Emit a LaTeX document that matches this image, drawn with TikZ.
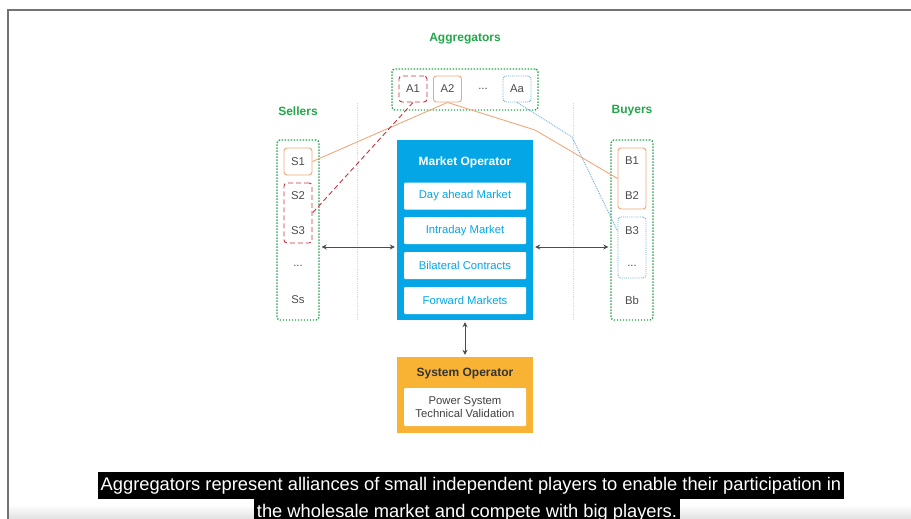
\documentclass[tikz,border=0pt]{standalone}
\usepackage{fontspec}
\setmainfont{Liberation Sans}
\usetikzlibrary{arrows.meta}

\definecolor{aggGreen}{HTML}{22A64A}
\definecolor{moBlue}{HTML}{05A6E6}
\definecolor{soOrange}{HTML}{F8B334}
\definecolor{lnOrange}{HTML}{F1A77A}
\definecolor{lnRed}{HTML}{C8323C}
\definecolor{lnBlue}{HTML}{6AAAD8}
\definecolor{txtGray}{HTML}{4A4A4A}

\begin{document}
\begin{tikzpicture}[x=1pt, y=1pt,
    grp/.style={draw=aggGreen, dash pattern=on 1.4pt off 1.6pt, line width=1.4pt, rounded corners=3pt, inner sep=0pt},
    item/.style={font=\fontsize{11.3}{13}\selectfont, text=txtGray},
    member/.style={rounded corners=3pt, line width=0.9pt, minimum width=28pt, minimum height=27pt, inner sep=0pt},
    mkt/.style={fill=white, text=moBlue, font=\fontsize{11.3}{13}\selectfont, minimum width=122pt, minimum height=27pt, rounded corners=1pt, inner sep=0pt},
    head/.style={font=\fontsize{12}{14}\selectfont\bfseries},
    link/.style={line width=0.9pt},
    reddash/.style={dash pattern=on 5pt off 3pt},
    biarrow/.style={{Stealth[length=5pt,width=5pt]}-{Stealth[length=5pt,width=5pt]}, line width=0.9pt, draw=black!70, shorten <=2pt, shorten >=2pt},
    sub/.style={fill=black, text=white, font=\fontsize{18.3}{20}\selectfont, inner xsep=3pt, inner ysep=0pt, minimum height=27pt}]
    \useasboundingbox (0,0) rectangle (911,-519);
    \clip (0,0) rectangle (911,-519);

    % Frame
    \shade[top color=white, bottom color=black!12] (9,-505) rectangle (911,-519);
    \draw[black!55, line width=1.5pt] (8,-519) -- (8,-10) -- (911,-10);

    % Guides
    \draw[black!15, densely dotted, line width=0.8pt] (357,-103) -- (357,-320);
    \draw[black!15, densely dotted, line width=0.8pt] (573,-103) -- (573,-320);

    % Titles
    \node[head, text=aggGreen] (aggtitle) at (465,-39) {Aggregators};
    \node[head, text=aggGreen] (selltitle) at (298,-111) {Sellers};
    \node[head, text=aggGreen] (buytitle) at (632,-111) {Buyers};

    % Aggregators
    \node[grp, minimum width=146pt, minimum height=41pt] (aggs) at (465,-89.5) {};
    \node[member, item, draw=lnRed, reddash, minimum height=26pt] (A1) at (413,-89) {A1};
    \node[member, item, draw=lnOrange, minimum height=26pt] (A2) at (447.5,-89) {A2};
    \node[item] (adots) at (483,-89) {...};
    \node[member, item, draw=lnBlue, densely dotted, minimum height=26pt] (Aa) at (517,-89) {Aa};

    % Sellers
    \node[grp, minimum width=42pt, minimum height=180pt] (sellers) at (298,-230) {};
    \node[member, item, draw=lnOrange] (S1) at (298,-161.5) {S1};
    \node[member, draw=lnRed, reddash, minimum height=60pt] (s23) at (298,-213) {};
    \node[item] (S2) at (298,-196) {S2};
    \node[item] (S3) at (298,-231) {S3};
    \node[item] (sdots) at (298,-266) {...};
    \node[item] (Ss) at (298,-300) {Ss};

    % Buyers
    \node[grp, minimum width=42pt, minimum height=180pt] (buyers) at (632,-230) {};
    \node[member, draw=lnOrange, minimum height=61pt] (b12) at (632,-178.5) {};
    \node[member, draw=lnBlue, densely dotted, minimum height=61pt] (b3x) at (632,-247.5) {};
    \node[item] (B1) at (632,-161) {B1};
    \node[item] (B2) at (632,-196) {B2};
    \node[item] (B3) at (632,-231) {B3};
    \node[item] (bdots) at (632,-266) {...};
    \node[item] (Bb) at (632,-300) {Bb};

    % Market operator
    \node[fill=moBlue, minimum width=136pt, minimum height=180pt, inner sep=0pt] (mo) at (465,-230) {};
    \node[head, text=white] (motitle) at (465,-162) {Market Operator};
    \node[mkt] (dam) at (465,-196) {Day ahead Market};
    \node[mkt] (idm) at (465,-230.5) {Intraday Market};
    \node[mkt] (bil) at (465,-265.5) {Bilateral Contracts};
    \node[mkt] (fwd) at (465,-300.5) {Forward Markets};

    % System operator
    \node[fill=soOrange, minimum width=136pt, minimum height=76pt, inner sep=0pt] (so) at (465,-395) {};
    \node[head, text=black!80] (sotitle) at (465,-374) {System Operator};
    \node[fill=white, rounded corners=1pt, minimum width=122pt, minimum height=38pt, inner sep=0pt,
          align=center, item, text=black!75] (psv) at (465,-407) {Power System\\Technical Validation};

    % Arrows
    \coordinate (midrow) at (465,-247);
    \draw[biarrow] (sellers.east |- midrow) -- (mo.west |- midrow);
    \draw[biarrow] (mo.east |- midrow) -- (buyers.west |- midrow);
    \draw[biarrow] (mo.south) -- (so.north);

    % Aggregator links
    \coordinate (obend) at (535,-130);
    \coordinate (bbend) at (572,-137);
    \draw[link, lnOrange] (A2.south) -- (S1.east);
    \draw[link, lnOrange] (A2.south) -- (obend) -- (b12.west);
    \draw[link, lnRed, reddash] (A1.south) -- (s23.east);
    \draw[link, lnBlue, densely dotted] (Aa.south) -- (bbend) -- (B3 -| b3x.west);

    % Subtitles
    \node[sub] (cap1) at (471,-485.5) {Aggregators represent alliances of small independent players to enable their participation in};
    \node[sub] (cap2) at (467,-512.5) {the wholesale market and compete with big players.};
\end{tikzpicture}
\end{document}
